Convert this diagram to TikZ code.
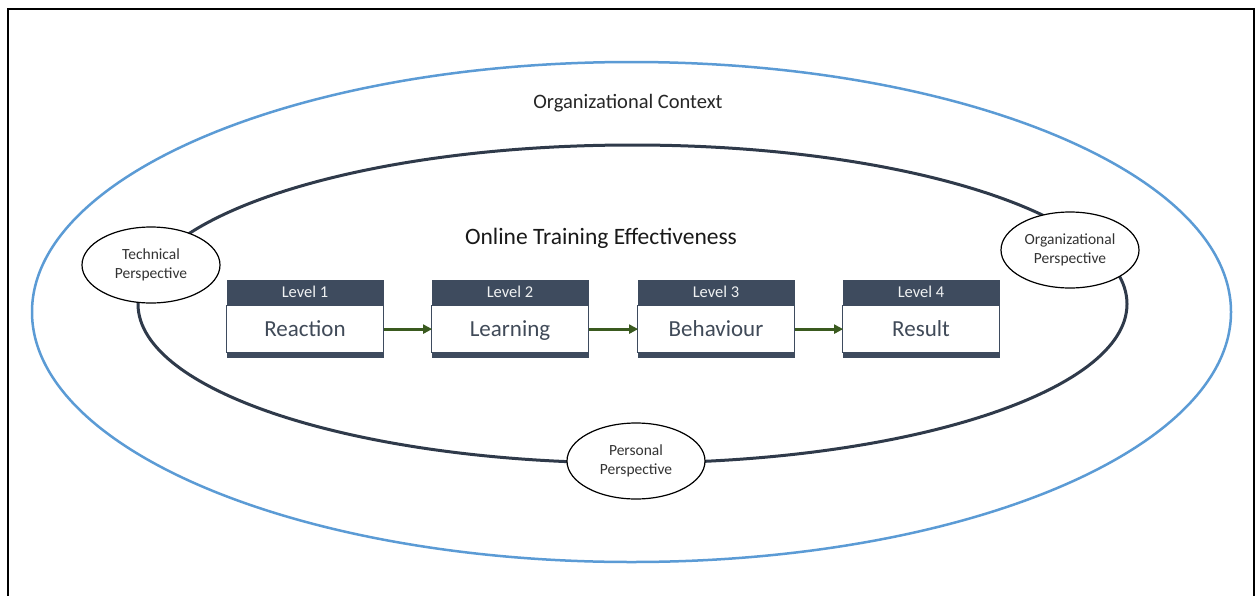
\documentclass[tikz,border=0pt]{standalone}
\usepackage{fontspec}
\setmainfont{Carlito}
\usetikzlibrary{shapes.geometric,arrows.meta}
\definecolor{slate}{HTML}{3E4B5E}
\definecolor{ring}{HTML}{2F3A4A}
\definecolor{skyblue}{HTML}{5B9BD5}
\definecolor{arrowgreen}{HTML}{3A5A1F}
\definecolor{txt}{HTML}{404A58}
\tikzset{
  persp/.style={ellipse, draw=black, line width=1.2pt, fill=white, minimum width=138pt, minimum height=76pt, inner sep=0pt, align=center, font=\fontsize{15.5}{18.5}\selectfont, text=black!80},
  head/.style={fill=slate, minimum width=157pt, minimum height=25pt, inner sep=0pt, text=white!92!slate, font=\fontsize{16.5}{19}\selectfont, text height=11pt, text depth=1pt},
  body/.style={draw=slate, line width=0.8pt, fill=white, minimum width=157pt, minimum height=47pt, inner sep=0pt, text=txt, font=\fontsize{23}{26}\selectfont, text height=15pt, text depth=1pt},
  band/.style={fill=slate, minimum width=157pt, minimum height=5pt, inner sep=0pt},
  flow/.style={-{Triangle[length=9pt,width=9pt]}, line width=3pt, draw=arrowgreen, shorten >=-1pt}
}
\begin{document}
\begin{tikzpicture}[x=1pt,y=-1pt]
\useasboundingbox (0,0) rectangle (1256,595);
\fill[white] (0,0) rectangle (1256,595);
\draw[line width=2pt, black] (8,600) -- (8,9) -- (1254,9) -- (1254,600);
\node[ellipse, draw=skyblue, line width=2.5pt, minimum width=1199pt, minimum height=500pt] (outer) at (631.5,312) {};
\node[ellipse, draw=ring, line width=3pt, minimum width=989pt, minimum height=318pt] (inner) at (632.5,304) {};
\node[font=\fontsize{20.5}{24}\selectfont, text=black!85] (ctx) at (628,103) {Organizational Context};
\node[font=\fontsize{23.5}{27}\selectfont, text=black!90] (title) at (601,238) {Online Training Effectiveness};
\node[persp] (tech) at (151,265) {Technical\\Perspective};
\node[persp] (org) at (1070,250) {Organizational\\Perspective};
\node[persp] (pers) at (636,461) {Personal\\Perspective};
\foreach \i/\x/\w in {1/305/Reaction,2/510/Learning,3/716/Behaviour,4/921/Result}{
  \node[head] (h\i) at (\x,292.5) {Level \i};
  \node[body, anchor=north] (b\i) at (h\i.south) {\w};
  \node[band, anchor=north] (s\i) at (b\i.south) {};
}
\draw[flow] (b1.east) -- (b2.west);
\draw[flow] (b2.east) -- (b3.west);
\draw[flow] (b3.east) -- (b4.west);
\end{tikzpicture}
\end{document}
